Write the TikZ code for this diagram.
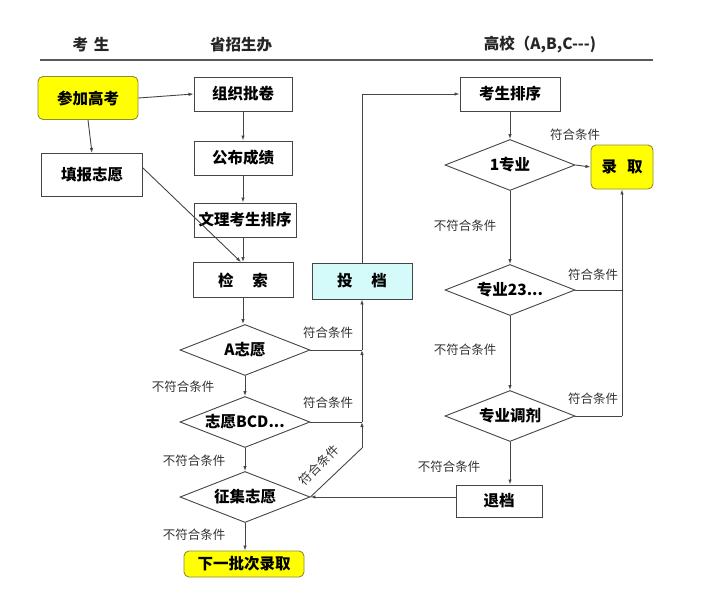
\documentclass[tikz,border=0pt]{standalone}
\usepackage{fontspec}
\setmainfont{Noto Sans CJK SC}
\usetikzlibrary{shapes.geometric,arrows.meta,calc}
\definecolor{lc}{HTML}{454545}
\definecolor{yfill}{HTML}{FFFF00}
\definecolor{ydraw}{HTML}{8C8C3A}
\definecolor{cfill}{HTML}{D4FAFA}
\tikzset{
  box/.style={draw=lc, fill=white, minimum width=100pt, minimum height=34pt, inner sep=0pt,
    font=\bfseries\fontsize{15.5}{16}\selectfont},
  ybox/.style={box, draw=ydraw, fill=yfill, rounded corners=5pt},
  dia/.style={draw=lc, fill=white, diamond, aspect=2.5, inner sep=0pt, minimum width=130pt,
    minimum height=51pt, font=\bfseries\fontsize{15.5}{16}\selectfont},
  lab/.style={font=\fontsize{12.5}{13}\selectfont, text=black!80, inner sep=0pt},
  hdr/.style={font=\bfseries\fontsize{15.5}{16}\selectfont, text=black!85, inner sep=0pt},
  arr/.style={-{Latex[length=5pt,width=3.5pt]}},
}
\begin{document}
\begin{tikzpicture}[x=1pt,y=-1pt,line width=0.9pt,draw=lc]
\useasboundingbox (0,0) rectangle (716,605);
% headers
\node[hdr] (h1) at (91,45) {考\hspace{6pt}生};
\node[hdr] (h2) at (241,45) {省招生办};
\node[hdr] (h3) at (540,45) {高校（A,B,C-{}-{}-)};
\draw[line width=1.2pt, draw=black!65] (40,60) -- (653,60);
% nodes
\node[ybox, minimum width=100pt, minimum height=43pt] (cj) at (88,98) {参加高考};
\node[box, minimum width=98pt] (zz) at (243,94) {组织批卷};
\node[box, minimum width=98pt] (gb) at (243,158) {公布成绩};
\node[box, minimum width=101pt, minimum height=43pt] (tb) at (92,175) {填报志愿};
\node[box, minimum width=102pt] (wl) at (245,220) {文理考生排序};
\node[box, minimum height=35pt] (js) at (243,280) {检\hspace{19pt}索};
\node[box, fill=cfill, minimum height=36pt] (td) at (362,281) {投\hspace{19pt}档};
\node[dia] (A) at (245,350) {A志愿};
\node[dia] (B) at (245,422) {志愿BCD...};
\node[dia] (Z) at (245,497) {征集志愿};
\node[ybox, minimum width=120pt, minimum height=26pt] (xy) at (244,564) {下一批次录取};
\node[box] (ks) at (510,94) {考生排序};
\node[dia] (z1) at (510,165) {1专业};
\node[ybox, minimum width=62pt, minimum height=44pt] (lq) at (622,167) {录\hspace{10pt}取};
\node[dia] (z2) at (510,290) {专业23...};
\node[dia] (z3) at (510,416) {专业调剂};
\node[box, minimum width=86pt, minimum height=32pt] (tdang) at (499,501) {退档};
% left connectors
\draw[arr] (cj.east) -- (zz.west);
\draw[arr] (cj.south) -- (tb.north);
\draw[arr] (zz) -- (gb);
\draw[arr] (gb.south) -- (gb.south |- wl.north);
\draw[arr] (js.north |- wl.south) -- (js.north);
\draw[arr] ($(tb.east)+(0,-7)$) -- ($(js.north)+(-2,0)$);
\draw[arr] (js.south) -- (js.south |- A.north);
\draw[arr] (A) -- (B);
\draw[arr] (B) -- (Z);
\draw[arr] (Z.south) -- (Z.south |- xy.north);
% bus to 投档
\coordinate (p1) at (362,448);
\draw (Z.east) -- (p1);
\draw[arr] (p1) -- (p1 |- B.east);
\draw[arr] (p1 |- B.east) -- (p1 |- A.east);
\draw[arr] (p1 |- A.east) -- (td.south);
\draw (A.east) -- (A.east -| p1);
\draw (B.east) -- (B.east -| p1);
\draw[arr] (td.north) |- (ks.west);
% right connectors
\draw[arr] (ks) -- (z1);
\draw[arr] (z1.east) -- (lq.west);
\draw[arr] (z1) -- (z2);
\draw[arr] (z2) -- (z3);
\draw[arr] (z3.south) -- (z3.south |- tdang.north);
\draw[arr] (tdang.west |- Z.east) -- (Z.east);
\coordinate (q1) at (lq.south |- z3.east);
\draw (z3.east) -- (q1);
\draw (z2.east) -- (lq.south |- z2.east);
\draw[arr] (q1) -- (lq.south);
% labels
\node[lab] (l1) at (183,387) {不符合条件};
\node[lab] (l2) at (194,461) {不符合条件};
\node[lab] (l3) at (194,535) {不符合条件};
\node[lab] (l4) at (328,333) {符合条件};
\node[lab] (l5) at (328,403) {符合条件};
\node[lab, rotate=45] (l6) at (319,465) {符合条件};
\node[lab] (l7) at (575,135) {符合条件};
\node[lab] (l8) at (465,226) {不符合条件};
\node[lab] (l9) at (593,275) {符合条件};
\node[lab] (l10) at (465,350) {不符合条件};
\node[lab] (l11) at (593,399) {符合条件};
\node[lab] (l12) at (449,467) {不符合条件};
\end{tikzpicture}
\end{document}
